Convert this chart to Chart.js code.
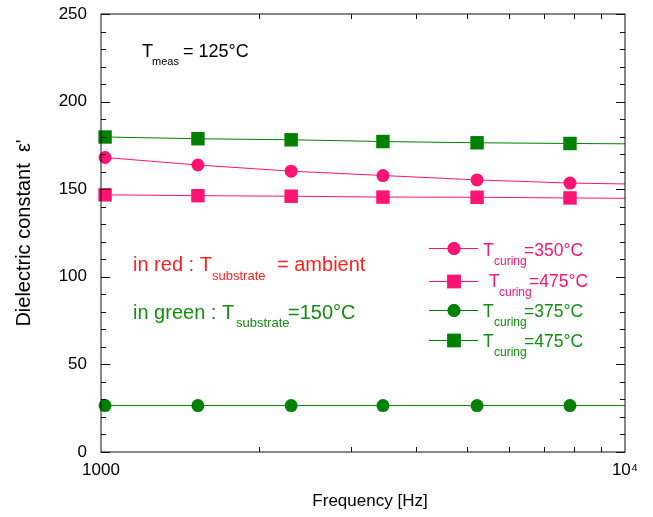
<!DOCTYPE html>
<html>
<head>
<meta charset="utf-8">
<script src="https://cdn.jsdelivr.net/npm/chart.js@4"></script>
<style>
html,body{margin:0;padding:0;background:#fff;}
#wrap{width:653px;height:517px;}
</style>
</head>
<body>
<div id="wrap"><canvas id="c" width="653" height="517"></canvas></div>
<script>
// ---- data ----
const frequencies = [1018, 1531, 2306, 3452, 5220, 7852, 10000]; // last entry: end of the drawn line
const redCircle350  = [168.1, 163.8, 160.3, 157.8, 155.3, 153.5, 153.0];
const redSquare475  = [146.8, 146.3, 146.0, 145.5, 145.4, 145.0, 144.8];
const greenCircle375 = [26.5, 26.5, 26.5, 26.5, 26.5, 26.5, 26.5];
const greenSquare475 = [179.8, 178.8, 178.2, 177.2, 176.5, 176.1, 175.9];
const markerShown = [true, true, true, true, true, true, false];
const xTickLabels = {1000: '1000', 10000: '10\u2074'};
const yTicks = [0, 50, 100, 150, 200, 250];

const PINK = '#ff1473';
const GREEN = '#008000';
const GREEN_TXT = '#138c13';
const RED_TXT = '#ff2121';
const FONT = '"Liberation Sans", Arial, sans-serif';

function pts(vals){ return frequencies.map((f,i)=>({x:f, y:vals[i]})); }
function radii(r){ return markerShown.map(s => s ? r : 0); }

const datasets = [
  {label:'T curing=350°C', data:pts(redCircle350), borderColor:PINK, backgroundColor:PINK, pointStyle:'circle', pointRadius:radii(6.5)},
  {label:'T curing=475°C', data:pts(redSquare475), borderColor:PINK, backgroundColor:PINK, pointStyle:'rect', pointRadius:radii(9.5)},
  {label:'T curing=375°C', data:pts(greenCircle375), borderColor:GREEN, backgroundColor:GREEN, pointStyle:'circle', pointRadius:radii(6.5)},
  {label:'T curing=475°C', data:pts(greenSquare475), borderColor:GREEN, backgroundColor:GREEN, pointStyle:'rect', pointRadius:radii(9.5)}
].map(d => Object.assign(d, {borderWidth:1, tension:0, clip:false, pointBorderWidth:0, pointHoverRadius:0}));

function segs(ctx, color, parts){
  ctx.fillStyle = color;
  ctx.textBaseline = 'alphabetic';
  ctx.textAlign = 'left';
  for (const p of parts){
    ctx.font = p[3] + 'px ' + FONT;
    ctx.fillText(p[0], p[1], p[2]);
  }
}

const frame = {
  id:'frame',
  afterDraw(chart){
    const ctx = chart.ctx, a = chart.chartArea;
    const xs = chart.scales.x, ys = chart.scales.y;
    ctx.save();
    ctx.strokeStyle = '#111';
    ctx.lineWidth = 1;
    ctx.strokeRect(a.left, a.top, a.right - a.left, a.bottom - a.top);
    ctx.beginPath();
    for (let v = 0; v <= 250; v += 10){
      const y = Math.round(ys.getPixelForValue(v)) + 0.5;
      const len = (v % 50 === 0) ? 9 : 5;
      ctx.moveTo(a.left, y); ctx.lineTo(a.left + len, y);
      ctx.moveTo(a.right, y); ctx.lineTo(a.right - len, y);
    }
    for (let f = 2000; f <= 9000; f += 1000){
      const x = Math.round(xs.getPixelForValue(f)) + 0.5;
      ctx.moveTo(x, a.bottom); ctx.lineTo(x, a.bottom - 5);
      ctx.moveTo(x, a.top); ctx.lineTo(x, a.top + 5);
    }
    ctx.stroke();

    // axis titles
    ctx.fillStyle = '#000';
    ctx.font = '17px ' + FONT;
    ctx.textAlign = 'center';
    ctx.textBaseline = 'middle';
    ctx.fillText('Frequency [Hz]', (a.left + a.right)/2 + 7, 501);
    ctx.save();
    ctx.translate(24, (a.top + a.bottom)/2);
    ctx.rotate(-Math.PI/2);
    ctx.font = '20px ' + FONT;
    ctx.fillText("Dielectric constant  \u03b5'", 0, 0);
    ctx.restore();

    // annotations
    segs(ctx, '#000', [['T',142,57,18],['meas',152,65,11],['= 125°C',183,57,18]]);
    segs(ctx, RED_TXT, [['in red : T',133,271,20],['substrate',212,280,13],['= ambient',277,271,20]]);
    segs(ctx, GREEN_TXT, [['in green : T',133,319,20],['substrate',236,327,13],['=150°C',288,319,20]]);

    // legend
    const rows = [
      {y:248, color:PINK, txt:PINK, style:'circle', r:6.5, t:483, s:494, e:524, val:'=350°C', base:256},
      {y:281, color:PINK, txt:PINK, style:'rect', r:9.5, t:489, s:499, e:529, val:'=475°C', base:287},
      {y:310, color:GREEN, txt:GREEN_TXT, style:'circle', r:6.5, t:483, s:494, e:524, val:'=375°C', base:317},
      {y:340, color:GREEN, txt:GREEN_TXT, style:'rect', r:9.5, t:483, s:494, e:524, val:'=475°C', base:347}
    ];
    for (const r of rows){
      ctx.strokeStyle = r.color; ctx.lineWidth = 1;
      ctx.beginPath(); ctx.moveTo(429, r.y + 0.5); ctx.lineTo(478, r.y + 0.5); ctx.stroke();
      ctx.fillStyle = r.color;
      Chart.helpers.drawPoint(ctx, {pointStyle:r.style, radius:r.r, rotation:0, borderWidth:0}, 454, r.y + 0.5);
      ctx.fill();
      segs(ctx, r.txt, [['T',r.t,r.base,17.5],['curing',r.s,r.base+9,12],[r.val,r.e,r.base,17.5]]);
    }
    ctx.restore();
  }
};

new Chart(document.getElementById('c'), {
  type:'line',
  data:{datasets},
  options:{
    responsive:false,
    animation:false,
    layout:{padding:{top:14, right:28, left:0, bottom:0}},
    plugins:{legend:{display:false}, tooltip:{enabled:false}},
    scales:{
      x:{
        type:'logarithmic', min:1000, max:10000,
        grid:{display:false, drawTicks:false},
        border:{display:false},
        afterBuildTicks(s){ s.ticks = Object.keys(xTickLabels).map(v => ({value:+v})); },
        ticks:{autoSkip:false, maxRotation:0, color:'#000', padding:8, font:{family:FONT, size:17},
               callback(v){ return xTickLabels[v] || ''; }},
        afterFit(s){ s.height = 65; s.paddingLeft = 0; s.paddingRight = 0; s.paddingTop = 0; s.paddingBottom = 0; }
      },
      y:{
        type:'linear', min:0, max:250,
        grid:{display:false, drawTicks:false},
        border:{display:false},
        afterBuildTicks(s){ s.ticks = yTicks.map(v => ({value:v})); },
        ticks:{color:'#000', padding:14, font:{family:FONT, size:17}},
        afterFit(s){ s.width = 101; s.paddingTop = 0; s.paddingBottom = 0; s.paddingLeft = 0; s.paddingRight = 0; }
      }
    }
  },
  plugins:[frame]
});
</script>
</body>
</html>
